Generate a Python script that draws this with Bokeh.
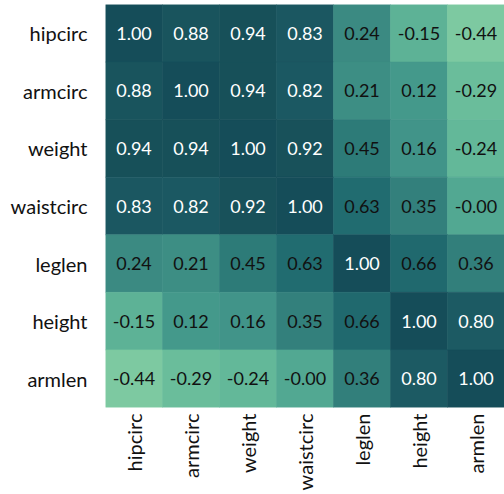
from bokeh.plotting import figure
from bokeh.models import ColumnDataSource, LinearColorMapper, FactorRange
from bokeh.transform import transform
from bokeh.core.properties import value
from bokeh.embed import file_html
from bokeh.resources import INLINE

variables = ["hipcirc", "armcirc", "weight", "waistcirc", "leglen", "height", "armlen"]

hipcirc = [1.00, 0.88, 0.94, 0.83, 0.24, -0.15, -0.44]
armcirc = [0.88, 1.00, 0.94, 0.82, 0.21, 0.12, -0.29]
weight = [0.94, 0.94, 1.00, 0.92, 0.45, 0.16, -0.24]
waistcirc = [0.83, 0.82, 0.92, 1.00, 0.63, 0.35, -0.00]
leglen = [0.24, 0.21, 0.45, 0.63, 1.00, 0.66, 0.36]
height = [-0.15, 0.12, 0.16, 0.35, 0.66, 1.00, 0.80]
armlen = [-0.44, -0.29, -0.24, -0.00, 0.36, 0.80, 1.00]

rows = [hipcirc, armcirc, weight, waistcirc, leglen, height, armlen]

# colour anchors (value, colour) for the teal scale
anchor_vals = [-0.44, -0.24, 0.00, 0.14, 0.24, 0.36, 0.45, 0.64, 0.82, 0.94, 1.00]
anchor_cols = ["#7dc9a1", "#63b899", "#52a892", "#42968a", "#3b8a82", "#327f7b",
               "#2d7b78", "#216b70", "#1b5862", "#175059", "#154d59"]


def hex2rgb(h):
    return tuple(int(h[i:i + 2], 16) for i in (1, 3, 5))


def build_palette(n, lo, hi):
    out = []
    for k in range(n):
        v = lo + (hi - lo) * k / (n - 1)
        for i in range(len(anchor_vals) - 1):
            if anchor_vals[i] <= v <= anchor_vals[i + 1] or i == len(anchor_vals) - 2:
                a, b = anchor_vals[i], anchor_vals[i + 1]
                t = min(max((v - a) / (b - a), 0), 1)
                c1, c2 = hex2rgb(anchor_cols[i]), hex2rgb(anchor_cols[i + 1])
                c = tuple(round(c1[j] + (c2[j] - c1[j]) * t) for j in range(3))
                out.append("#%02x%02x%02x" % c)
                break
    return out


lo, hi = min(min(r) for r in rows), max(max(r) for r in rows)
palette = build_palette(256, lo, hi)
mapper = LinearColorMapper(palette=palette, low=lo, high=hi)

xs, ys, vals, labels, tcols = [], [], [], [], []
for rname, r in zip(variables, rows):
    for cname, v in zip(variables, r):
        xs.append(cname)
        ys.append(rname)
        vals.append(v)
        labels.append(format(v, ".2f"))
        tcols.append("#ffffff" if v >= 0.7 else "#111111")

src = ColumnDataSource(dict(x=xs, y=ys, v=vals, label=labels, tcol=tcols))

p = figure(width=504, height=494,
           x_range=FactorRange(*variables),
           y_range=FactorRange(*list(reversed(variables))),
           output_backend="svg", toolbar_location=None,
           min_border_left=105, min_border_right=0, min_border_top=4,
           min_border_bottom=87)

p.rect(x="x", y="y", width=1, height=1, source=src,
       fill_color=transform("v", mapper),
       line_color=transform("v", mapper), line_width=0.6)

p.text(x="x", y="y", text="label", source=src, text_color="tcol",
       text_align="center", text_baseline="middle",
       text_font=value("Lato"), text_font_size="18px")

p.outline_line_color = None
p.grid.grid_line_color = None
for ax in (p.xaxis, p.yaxis):
    ax.axis_line_color = None
    ax.major_tick_line_color = None
    ax.minor_tick_line_color = None
    ax.major_tick_out = 0
    ax.major_tick_in = 0
    ax.major_label_text_font = "Lato"
    ax.major_label_text_font_size = "20px"
    ax.major_label_text_color = "#111111"

p.yaxis.major_label_standoff = 18
p.xaxis.major_label_standoff = 6
p.xaxis.major_label_orientation = 1.5708
p.x_range.range_padding = 0
p.y_range.range_padding = 0

open("out.html", "w").write(file_html(p, INLINE))
